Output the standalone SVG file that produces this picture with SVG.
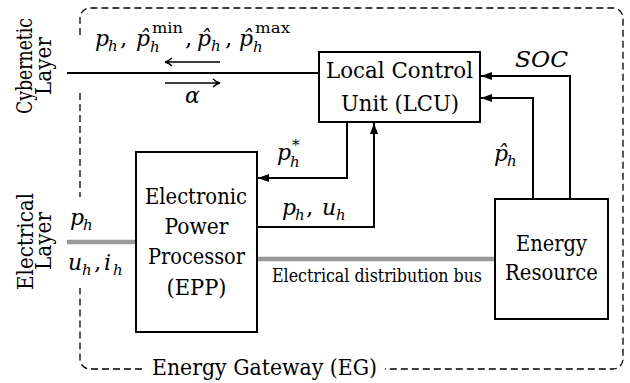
<svg xmlns="http://www.w3.org/2000/svg" width="630" height="383" viewBox="0 0 630 383">
<defs>
<marker id="ah" markerUnits="userSpaceOnUse" markerWidth="12" markerHeight="8" refX="11" refY="4" orient="auto">
<path d="M0,0 L11,4 L0,8 z" fill="#000"/>
</marker>
<style>
text{font-family:"DejaVu Serif","Liberation Serif",serif;fill:#000}
.box{fill:#fff;stroke:#000;stroke-width:2}
.t{font-size:23px}
.m{font-style:italic;font-size:22px}
.s{font-style:italic;font-size:15px}
.su{font-size:15px;font-style:normal}
.w{fill:none;stroke:#000;stroke-width:2}
.thin{fill:none;stroke:#000;stroke-width:1.3}
.bus{fill:none;stroke:#999;stroke-width:4.5}
.dash{fill:none;stroke:#000;stroke-width:1.3;stroke-dasharray:7 4}
</style>
</defs>

<g id="energy-gateway">
<path class="dash" d="M80,35 V18 A10,10 0 0 1 90,8 H613 A10,10 0 0 1 623,18 V359 A10,10 0 0 1 613,369 H385"/>
<path class="dash" d="M142,369 H90 A10,10 0 0 1 80,359 V288"/>
<path class="dash" d="M80,93 V197"/>
<text class="t" x="152" y="375" textLength="225" lengthAdjust="spacingAndGlyphs">Energy Gateway (EG)</text>
</g>

<g id="layer-labels">
<text class="t" transform="translate(32,114) rotate(-90)" textLength="96" lengthAdjust="spacingAndGlyphs">Cybernetic</text>
<text class="t" transform="translate(51,95) rotate(-90)" textLength="58" lengthAdjust="spacingAndGlyphs">Layer</text>
<text class="t" transform="translate(33,290) rotate(-90)" textLength="97" lengthAdjust="spacingAndGlyphs">Electrical</text>
<text class="t" transform="translate(51,270) rotate(-90)" textLength="58" lengthAdjust="spacingAndGlyphs">Layer</text>
</g>

<g id="connectors">
<path class="w" d="M67,73 H319"/>
<path class="thin" d="M220,62 H166 M172,58 Q169,61 165,62 Q169,63 172,66"/>
<path class="thin" d="M165,83 H219 M213,79 Q216,82 220,83 Q216,84 213,87"/>
<path class="w" d="M347,122 V178 H258" marker-end="url(#ah)"/>
<path class="w" d="M257,227 H374 V123" marker-end="url(#ah)"/>
<path class="w" d="M570,199 V76 H481" marker-end="url(#ah)"/>
<path class="w" d="M533,199 V98 H481" marker-end="url(#ah)"/>
<path class="bus" d="M67,242 H136"/>
<path class="bus" d="M257,259 H495"/>
</g>

<g id="lcu">
<rect class="box" x="319" y="52" width="161" height="70"/>
<text class="t" x="326" y="78" textLength="147" lengthAdjust="spacingAndGlyphs">Local Control</text>
<text class="t" x="341" y="111" textLength="118" lengthAdjust="spacingAndGlyphs">Unit (LCU)</text>
</g>

<g id="epp">
<rect class="box" x="136" y="152" width="121" height="180"/>
<text class="t" x="145" y="204" textLength="102" lengthAdjust="spacingAndGlyphs">Electronic</text>
<text class="t" x="164.5" y="234" textLength="64" lengthAdjust="spacingAndGlyphs">Power</text>
<text class="t" x="148" y="264" textLength="97" lengthAdjust="spacingAndGlyphs">Processor</text>
<text class="t" x="166.5" y="295" textLength="60" lengthAdjust="spacingAndGlyphs">(EPP)</text>
</g>

<g id="energy-resource">
<rect class="box" x="495" y="199" width="113" height="120"/>
<text class="t" x="516" y="251" textLength="71" lengthAdjust="spacingAndGlyphs">Energy</text>
<text class="t" x="505" y="280" textLength="93" lengthAdjust="spacingAndGlyphs">Resource</text>
</g>

<g id="labels">
<text class="m" x="95" y="46">p<tspan class="s" x="108" y="51">h</tspan><tspan class="t" font-style="normal" x="120" y="46">,</tspan></text>
<text class="m" x="136" y="46">p̂<tspan class="su" x="152" y="33" textLength="31" lengthAdjust="spacingAndGlyphs">min</tspan><tspan class="s" x="150" y="52">h</tspan><tspan class="t" font-style="normal" x="185" y="46">,</tspan></text>
<text class="m" x="197" y="46">p̂<tspan class="s" x="211" y="51">h</tspan><tspan class="t" font-style="normal" x="225" y="46">,</tspan></text>
<text class="m" x="239" y="46">p̂<tspan class="su" x="255" y="33" textLength="35" lengthAdjust="spacingAndGlyphs">max</tspan><tspan class="s" x="253" y="52">h</tspan></text>
<text class="m" x="185" y="103">α</text>
<text class="m" x="515" y="67" textLength="53" lengthAdjust="spacingAndGlyphs">SOC</text>
<text class="m" x="494" y="161">p̂<tspan class="s" x="507" y="166">h</tspan></text>
<text class="m" x="277" y="160">p<tspan class="su" x="292" y="150">*</tspan><tspan class="s" x="290" y="167">h</tspan></text>
<text class="m" x="282" y="215">p<tspan class="s" x="295" y="220">h</tspan><tspan class="t" font-style="normal" x="306" y="215">,</tspan><tspan x="322" y="215">u</tspan><tspan class="s" x="336" y="220">h</tspan></text>
<text class="m" x="70" y="225">p<tspan class="s" x="83" y="230">h</tspan></text>
<text class="m" x="68" y="270">u<tspan class="s" x="82" y="275">h</tspan><tspan class="t" font-style="normal" x="94" y="270">,</tspan><tspan x="104" y="270">i</tspan><tspan class="s" x="113" y="275">h</tspan></text>
<text class="t" x="272" y="282" style="font-size:18px" textLength="210" lengthAdjust="spacingAndGlyphs">Electrical distribution bus</text>
</g>
</svg>
